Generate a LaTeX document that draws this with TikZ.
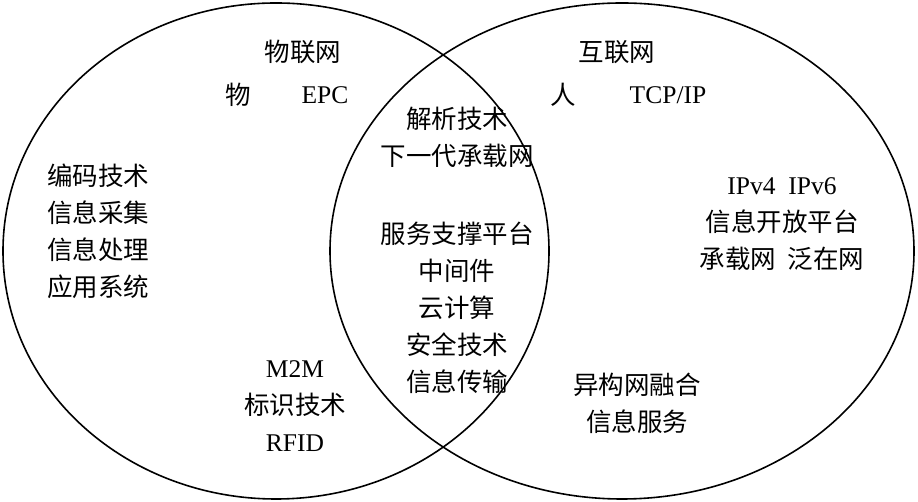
\documentclass[tikz,border=0pt]{standalone}
\usepackage{fontspec}
\setmainfont{Liberation Serif}
\newfontfamily\cjk{Noto Sans CJK SC}
\begin{document}
\begin{tikzpicture}[x=1pt,y=1pt, every node/.style={font=\fontsize{25.5}{37}\selectfont, inner sep=0pt}]
  \useasboundingbox (0,0) rectangle (918,502);
  % Two sets
  \draw[line width=1.6pt] (276,251) ellipse (273 and 248);
  \draw[line width=1.6pt] (622,251) ellipse (292 and 248);

  % Left set
  \node (wlw) at (303,450) {\cjk 物联网};
  \node (wu) at (238,407) {\cjk 物};
  \node (epc) at (325,407) {EPC};
  \node[align=left, anchor=north west] (left) at (47,338) {\cjk 编码技术\\\cjk 信息采集\\\cjk 信息处理\\\cjk 应用系统};
  \node[align=center, anchor=north] (rfid) at (295,142) {M2M\\\cjk 标识技术\\RFID};

  % Right set
  \node (hlw) at (617,450) {\cjk 互联网};
  \node (ren) at (563,407) {\cjk 人};
  \node (tcp) at (668,407) {TCP/IP};
  \node[align=center, anchor=north] (ipv) at (782,325) {IPv4\ \ IPv6\\\cjk 信息开放平台\\\cjk 承载网\ \ 泛在网};
  \node[align=center, anchor=north] (yg) at (637,129) {\cjk 异构网融合\\\cjk 信息服务};

  % Intersection
  \node[align=center, anchor=north] (jx) at (457,395) {\cjk 解析技术\\\cjk 下一代承载网};
  \node[align=center, anchor=north] (fw) at (457,280) {\cjk 服务支撑平台\\\cjk 中间件\\\cjk 云计算\\\cjk 安全技术\\\cjk 信息传输};
\end{tikzpicture}
\end{document}
